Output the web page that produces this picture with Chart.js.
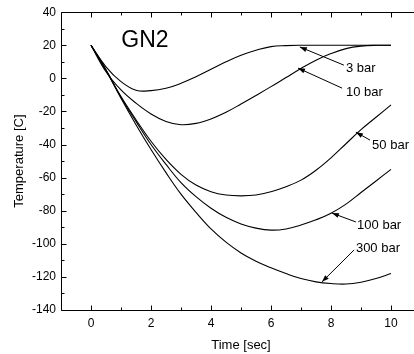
<!DOCTYPE html>
<html>
<head>
<meta charset="utf-8">
<script src="https://cdn.jsdelivr.net/npm/chart.js@4/dist/chart.umd.min.js"></script>
<style>
  html, body { margin: 0; padding: 0; background: #fff; overflow: hidden; }
  #wrap { width: 414px; height: 354px; overflow: hidden; }
</style>
</head>
<body>
<div id="wrap"><canvas id="chart" width="430" height="354"></canvas></div>
<script>
// time axis (sec) and temperatures (C)
const time = [0, 0.5, 1, 1.5, 2, 2.5, 3, 3.5, 4, 4.5, 5, 5.5, 6, 6.5, 7, 7.5, 8, 8.5, 9, 9.5, 10];
const temp3bar = [20, 7, -2, -7.2, -7.4, -6, -3, 1, 5.5, 10, 14, 17, 19.2, 19.8, 20, 20, 20, 20, 20, 20, 20];
const temp10bar = [20, 4, -7, -15, -21.5, -26, -28, -27.2, -24.5, -20.5, -15.5, -10.3, -5, 0.5, 6, 11, 15, 18, 19.5, 20, 20];
const temp50bar = [20, 5, -11, -25, -38, -49, -58, -64.5, -68.5, -70.5, -71, -70.5, -68.5, -65.5, -61.5, -55.5, -48, -39.5, -31, -23.5, -16];
const temp100bar = [20, 5, -11.5, -26, -40, -52, -63, -71.5, -78.5, -84, -88, -90.5, -91.7, -91, -88.6, -85.5, -81.5, -76, -69, -62, -55];
const temp300bar = [20, 5, -12, -28, -43, -57, -70, -81, -91, -99, -105.5, -110.5, -114.5, -118, -121, -123, -124, -124.3, -123.2, -121, -118];

const xTicks = [0, 2, 4, 6, 8, 10];
const xMinor = [1, 3, 5, 7, 9];
const yTicks = [-140, -120, -100, -80, -60, -40, -20, 0, 20, 40];
const yMinor = [-130, -110, -90, -70, -50, -30, -10, 10, 30];

// curve labels: [text, arrow head (t, T), arrow tail (t, T), text anchor (t, T)]
const curveLabels = [
  ['3 bar', [6.96, 19], [8.43, 8], [8.5, 6.2]],
  ['10 bar', [6.9, 6.2], [8.37, -5.9], [8.5, -8.3]],
  ['50 bar', [8.83, -32.5], [9.3, -37.3], [9.37, -40.3]],
  ['100 bar', [8.03, -81.4], [8.83, -86.8], [8.87, -88.6]],
  ['300 bar', [7.7, -123], [8.77, -103.7], [8.83, -102.5]]
];

const FONT = "'Liberation Sans', Arial, sans-serif";

function pts(ys) {
  return time.map((t, i) => ({ x: t, y: ys[i] }));
}

function line(label, ys) {
  return {
    label: label,
    data: pts(ys),
    borderColor: '#000',
    borderWidth: 1.1,
    pointRadius: 0,
    fill: false,
    tension: 0.4
  };
}

const framePlugin = {
  id: 'frame',
  afterDraw(chart) {
    const { ctx, chartArea: a, scales: { x, y } } = chart;
    ctx.save();
    ctx.strokeStyle = '#000';
    ctx.lineWidth = 1;
    const L = Math.round(a.left) + 0.5, R = Math.round(a.right) + 0.5;
    const T = Math.round(a.top) + 0.5, B = Math.round(a.bottom) + 0.5;
    ctx.beginPath();
    ctx.rect(L, T, R - L, B - T);
    // x ticks, bottom and top, pointing in
    xTicks.concat(xMinor).forEach(v => {
      const len = xTicks.includes(v) ? 5 : 3;
      const px = Math.round(x.getPixelForValue(v)) + 0.5;
      ctx.moveTo(px, B); ctx.lineTo(px, B - len);
      ctx.moveTo(px, T); ctx.lineTo(px, T + len);
    });
    yTicks.concat(yMinor).forEach(v => {
      const len = yTicks.includes(v) ? 5 : 3;
      const py = Math.round(y.getPixelForValue(v)) + 0.5;
      ctx.moveTo(L, py); ctx.lineTo(L + len, py);
    });
    ctx.stroke();

    ctx.fillStyle = '#000';
    ctx.font = '23px ' + FONT;
    ctx.textAlign = 'center';
    ctx.textBaseline = 'middle';
    ctx.fillText('GN2', x.getPixelForValue(1.8), y.getPixelForValue(22.5));

    ctx.font = '13px ' + FONT;
    ctx.textAlign = 'left';
    curveLabels.forEach(([txt, head, tail, pos]) => {
      const hx = x.getPixelForValue(head[0]), hy = y.getPixelForValue(head[1]);
      const tx = x.getPixelForValue(tail[0]), ty = y.getPixelForValue(tail[1]);
      ctx.beginPath();
      ctx.moveTo(tx, ty); ctx.lineTo(hx, hy);
      ctx.stroke();
      const ang = Math.atan2(hy - ty, hx - tx);
      ctx.beginPath();
      ctx.moveTo(hx, hy);
      ctx.lineTo(hx - 7 * Math.cos(ang) + 2.5 * Math.sin(ang), hy - 7 * Math.sin(ang) - 2.5 * Math.cos(ang));
      ctx.lineTo(hx - 7 * Math.cos(ang) - 2.5 * Math.sin(ang), hy - 7 * Math.sin(ang) + 2.5 * Math.cos(ang));
      ctx.closePath();
      ctx.fill();
      ctx.fillText(txt, x.getPixelForValue(pos[0]), y.getPixelForValue(pos[1]));
    });
    ctx.restore();
  }
};

new Chart(document.getElementById('chart'), {
  type: 'line',
  data: {
    datasets: [
      line('3 bar', temp3bar),
      line('10 bar', temp10bar),
      line('50 bar', temp50bar),
      line('100 bar', temp100bar),
      line('300 bar', temp300bar)
    ]
  },
  options: {
    responsive: false,
    animation: false,
    layout: { padding: { top: 12, right: 9, left: 0, bottom: 0 } },
    plugins: { legend: { display: false }, tooltip: { enabled: false } },
    scales: {
      x: {
        type: 'linear',
        min: -1,
        max: 11,
        afterBuildTicks: s => { s.ticks = xTicks.map(v => ({ value: v })); },
        afterFit: s => { s.height = 44; },
        grid: { display: false, drawTicks: false },
        border: { display: false },
        ticks: { color: '#000', font: { family: FONT, size: 12 }, padding: 6, maxRotation: 0 },
        title: { display: true, text: 'Time [sec]', color: '#000', font: { family: FONT, size: 13 }, padding: { top: 0, bottom: 1 } }
      },
      y: {
        type: 'linear',
        min: -140,
        max: 40,
        afterBuildTicks: s => { s.ticks = yTicks.map(v => ({ value: v })); },
        afterFit: s => { s.width = 61; },
        grid: { display: false, drawTicks: false },
        border: { display: false },
        ticks: { color: '#000', font: { family: FONT, size: 12 }, padding: 5 },
        title: { display: true, text: 'Temperature [C]', color: '#000', font: { family: FONT, size: 13 }, padding: { top: 12, bottom: 0 } }
      }
    }
  },
  plugins: [framePlugin]
});
</script>
</body>
</html>
